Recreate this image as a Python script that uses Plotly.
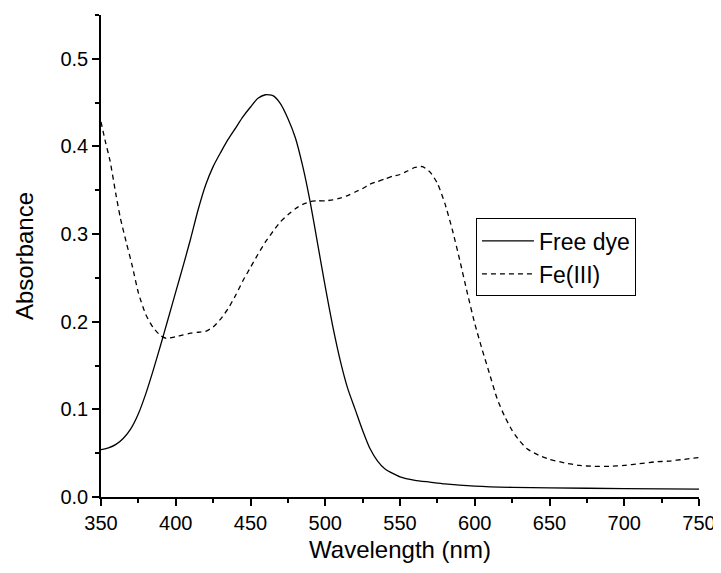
import plotly.graph_objects as go

# Wavelength (nm) and absorbance values
wl_free = [350, 355, 360, 365, 370, 375, 380, 385, 390, 395, 400, 405, 410, 415, 420,
           425, 430, 435, 440, 445, 450, 455, 460, 465, 470, 475, 480, 485, 490, 495,
           500, 505, 510, 515, 520, 525, 530, 535, 540, 550, 560, 570, 580, 600, 625,
           650, 700, 750]
abs_free = [0.054, 0.056, 0.060, 0.067, 0.078, 0.095, 0.118, 0.145, 0.174, 0.204, 0.234,
            0.264, 0.295, 0.328, 0.356, 0.377, 0.393, 0.408, 0.421, 0.434, 0.445, 0.455,
            0.459, 0.458, 0.449, 0.432, 0.410, 0.377, 0.336, 0.288, 0.240, 0.195, 0.156,
            0.124, 0.100, 0.076, 0.055, 0.041, 0.032, 0.023, 0.019, 0.017, 0.015, 0.0125,
            0.011, 0.0105, 0.0095, 0.009]

wl_fe = [350, 353, 356, 360, 363, 367, 371, 375, 380, 385, 390, 394, 400, 405, 410, 415,
         420, 425, 430, 435, 440, 445, 450, 455, 460, 465, 470, 475, 480, 485, 490, 495,
         500, 505, 510, 515, 520, 525, 530, 535, 540, 545, 550, 555, 560, 565, 570, 575,
         580, 585, 590, 595, 600, 605, 610, 615, 620, 625, 630, 635, 640, 645, 650, 660,
         670, 680, 690, 700, 710, 720, 730, 740, 750]
abs_fe = [0.428, 0.405, 0.384, 0.345, 0.318, 0.290, 0.263, 0.233, 0.208, 0.193, 0.184,
          0.181, 0.183, 0.185, 0.187, 0.188, 0.189, 0.194, 0.203, 0.215, 0.230, 0.247,
          0.262, 0.277, 0.291, 0.303, 0.314, 0.322, 0.329, 0.334, 0.337, 0.338, 0.338,
          0.339, 0.341, 0.344, 0.348, 0.352, 0.357, 0.360, 0.363, 0.366, 0.368, 0.372,
          0.376, 0.377, 0.371, 0.358, 0.335, 0.305, 0.270, 0.233, 0.198, 0.168, 0.140,
          0.112, 0.092, 0.076, 0.064, 0.055, 0.050, 0.046, 0.043, 0.039, 0.036, 0.035,
          0.035, 0.036, 0.038, 0.040, 0.041, 0.043, 0.045]

series_names = ["Free dye", "Fe(III)"]
x_title = "Wavelength (nm)"
y_title = "Absorbance"

FONT = "Liberation Sans, Arial, sans-serif"

fig = go.Figure()
fig.add_trace(go.Scatter(x=wl_free, y=abs_free, mode="lines", name=series_names[0],
                         line=dict(color="black", width=1.3, shape="spline", smoothing=0.6)))
fig.add_trace(go.Scatter(x=wl_fe, y=abs_fe, mode="lines", name=series_names[1],
                         line=dict(color="black", width=1.3, dash="5px,4px",
                                   shape="spline", smoothing=0.6)))

axis_common = dict(
    showgrid=False, zeroline=False, showline=True, linecolor="black", linewidth=1.5,
    ticks="outside", ticklen=7, tickwidth=1.5, tickcolor="black",
    tickfont=dict(family=FONT, size=20, color="black"),
    mirror=False, automargin=False,
)

fig.update_xaxes(range=[350, 750], dtick=50, tick0=350,
                 title=dict(text=x_title, font=dict(family=FONT, size=24, color="black"), standoff=8),
                 minor=dict(ticks="outside", ticklen=4, tickwidth=1.5, tickcolor="black", dtick=25),
                 **axis_common)
fig.update_yaxes(range=[0, 0.55], dtick=0.1, tick0=0, tickformat=".1f",
                 title=dict(text=y_title, font=dict(family=FONT, size=24, color="black"), standoff=20),
                 minor=dict(ticks="outside", ticklen=4, tickwidth=1.5, tickcolor="black", dtick=0.05),
                 **axis_common)

# page body has an 8px margin, so the figure is offset by 8px
fig.update_layout(
    width=713, height=565,
    margin=dict(l=93, r=22, t=7, b=76),
    paper_bgcolor="white", plot_bgcolor="white",
    font=dict(family=FONT, color="black"),
    legend=dict(x=0.627, y=0.497, xanchor="left", yanchor="middle",
                bgcolor="white", bordercolor="black", borderwidth=1,
                font=dict(family=FONT, size=23, color="black"),
                tracegroupgap=0, itemwidth=52),
    showlegend=True,
)

fig.write_html("out.html")
